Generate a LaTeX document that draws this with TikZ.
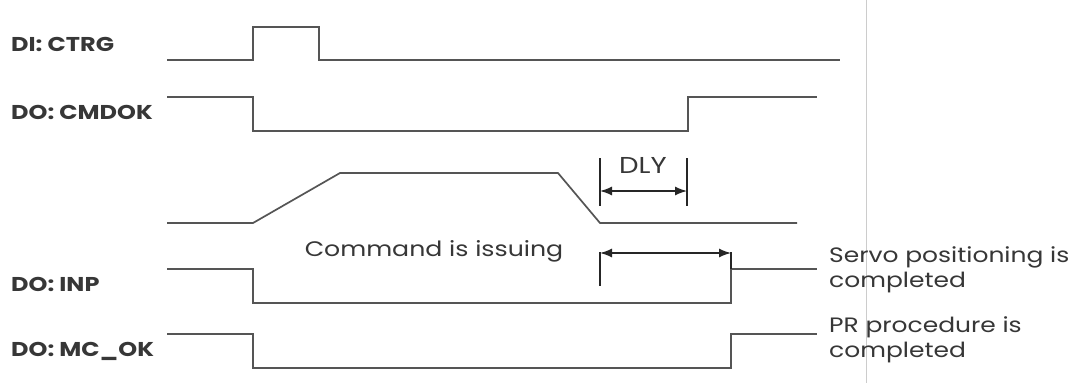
\documentclass[tikz,border=0pt]{standalone}
\usepackage{fontspec}
\setmainfont{Poppins}[FakeStretch=1.2]
\usetikzlibrary{arrows.meta}
\definecolor{sigc}{RGB}{85,85,85}
\definecolor{txtc}{RGB}{55,55,55}
\begin{document}
\begin{tikzpicture}[x=1pt,y=-1pt,
  sig/.style={draw=sigc,line width=1.7pt,line join=miter},
  dim/.style={draw=black!85,line width=1.4pt},
  dimarrow/.style={dim,{Latex[length=12pt,width=9pt]}-{Latex[length=12pt,width=9pt]}},
  lab/.style={anchor=west,inner sep=0pt,text=txtc,font=\fontsize{20}{24}\selectfont\bfseries},
  note/.style={anchor=west,inner sep=0pt,align=left,text=txtc,font=\fontsize{20.8}{25}\selectfont}]
\useasboundingbox (0,0) rectangle (1075,383);
\fill[white] (0,0) rectangle (1075,383);
\draw[black!20,line width=1pt] (866,0) -- (866,383);
% labels
\node[lab] (lctrg) at (11,44) {DI: CTRG};
\node[lab] (lcmdok) at (11,112) {DO: CMDOK};
\node[lab] (linp) at (11,284) {DO: INP};
\node[lab] (lmcok) at (11,351) {DO: MC\_OK};
% signals
\draw[sig] (167,60) -- (253,60) -- (253,27) -- (319,27) -- (319,60) -- (840,60);
\draw[sig] (167,97) -- (253,97) -- (253,131) -- (688,131) -- (688,97) -- (817,97);
\draw[sig] (167,223) -- (253,223) -- (340,173) -- (558,173) -- (600,223) -- (797,223);
\draw[sig] (167,269) -- (253,269) -- (253,303) -- (731,303) -- (731,269) -- (817,269);
\draw[sig] (167,334) -- (253,334) -- (253,368) -- (731,368) -- (731,334) -- (817,334);
% DLY
\coordinate (d1) at (600,191);
\coordinate (d2) at (687,191);
\draw[dim] (600,158) -- (600,206);
\draw[dim] (687,158) -- (687,206);
\draw[dimarrow] (d1) -- (d2);
\node[inner sep=0pt,text=txtc,font=\fontsize{23}{26}\selectfont] (dly) at (643,165) {DLY};
% INP dimension
\coordinate (i1) at (600,253);
\coordinate (i2) at (731,253);
\draw[dim] (600,252) -- (600,286);
\draw[dim] (731,252) -- (731,269);
\draw[dimarrow] (i1) -- (i2);
\node[inner sep=0pt,text=txtc,font=\fontsize{21}{24}\selectfont] (cmd) at (434,251) {Command is issuing};
% notes
\node[note] (servo) at (829,270) {Servo positioning is\\completed};
\node[note] (pr) at (829,340) {PR procedure is\\completed};
\end{tikzpicture}
\end{document}
